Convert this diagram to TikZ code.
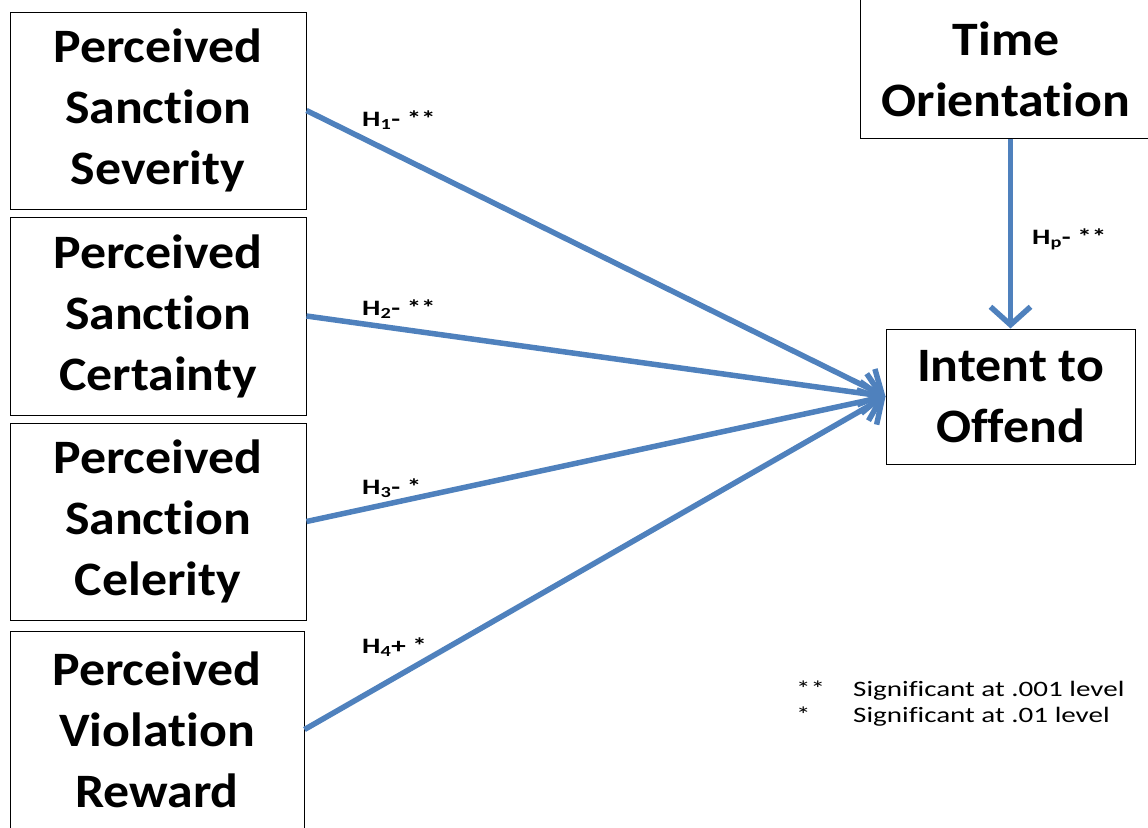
\documentclass[tikz,border=0pt]{standalone}
\usepackage{fontspec}
\setmainfont{Carlito}[Ligatures=NoCommon]
\newfontfamily\boxfont{Carlito}[Ligatures=NoCommon, FakeStretch=1.08]
\newfontfamily\notefont{Carlito}[Ligatures=NoCommon, FakeStretch=1.32]
\usetikzlibrary{arrows.meta}
\definecolor{pathblue}{HTML}{4F81BD}
\tikzset{
  box/.style={draw, line width=1pt, align=center, inner sep=0pt,
    font=\boxfont\bfseries\fontsize{48}{61}\selectfont},
  hyp/.style={-{Straight Barb[length=18pt,width=40pt]}, line width=5.5pt, pathblue},
  hlabel/.style={anchor=base west, inner sep=0pt, font=\notefont\bfseries\fontsize{22}{26}\selectfont},
  note/.style={anchor=base west, inner sep=0pt, font=\notefont\fontsize{22}{26}\selectfont}
}
\begin{document}
\begin{tikzpicture}[x=1pt,y=-1pt]
      \useasboundingbox (0,0) rectangle (1148,827);
      \clip (0,0) rectangle (1148,827);
      \draw
        (158,110.5) node[box, minimum width=296, minimum height=197] (sev){Perceived\\Sanction\\Severity}
        (158,316) node[box, minimum width=296, minimum height=198] (cert){Perceived\\Sanction\\Certainty}
        (158,521.5) node[box, minimum width=296, minimum height=197] (cel){Perceived\\Sanction\\Celerity}
        (157,729.5) node[box, minimum width=294, minimum height=197] (rew){Perceived\\Violation\\Reward}
        (1006,69) node[box, draw=none, minimum width=290, minimum height=138] (time){Time\\Orientation}
        (1010.5,396.5) node[box, minimum width=249, minimum height=135] (intent){Intent to\\Offend};
      % frame of the cut-off box
      \draw[line width=1pt] ([yshift=10pt]time.north west) |- (time.south east) -- ++(0,-10);
      \begin{scope}[hyp]
        \draw (sev.east) to (intent.west);
        \draw (cert.east) to (intent.west);
        \draw (cel.east) to (intent.west);
        \draw (rew.east) to (intent.west);
        \draw (time.south -| intent.north) to (intent.north);
      \end{scope}
      \node[hlabel] (h1) at (362,126) {H\textsubscript{1}- **};
      \node[hlabel] (h2) at (362,315) {H\textsubscript{2}- **};
      \node[hlabel] (h3) at (362,494) {H\textsubscript{3}- *};
      \node[hlabel] (h4) at (362,653) {H\textsubscript{4}+ *};
      \node[hlabel] (hp) at (1032,244) {H\textsubscript{p}- **};
      \node[note] (k1) at (796,696) {**};
      \node[note] (s1) at (853,696) {Significant at .001 level};
      \node[note] (k2) at (796,722) {*};
      \node[note] (s2) at (853,722) {Significant at .01 level};
    \end{tikzpicture}
\end{document}
